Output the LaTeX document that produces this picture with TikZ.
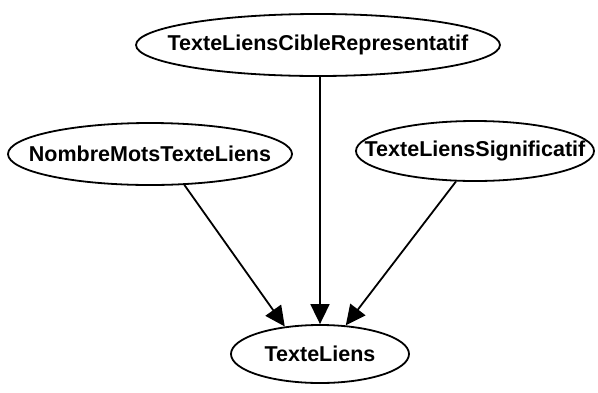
\documentclass[tikz,border=0pt]{standalone}
\usepackage{fontspec}
\newfontfamily\nodefont{Liberation Sans}
\usetikzlibrary{shapes.geometric,arrows.meta}
\tikzset{
  var/.style={ellipse, draw, line width=1.8pt, inner sep=0pt,
    font=\nodefont\bfseries\fontsize{21.5}{24}\selectfont},
  dep/.style={line width=1.8pt, -{Triangle[length=20pt,width=19pt]}}
}
% label of zero width, so that the ellipse keeps its given size
\newcommand\lbl[1]{\makebox[0pt]{#1}}
\begin{document}
\begin{tikzpicture}[x=1pt,y=-1pt]
  \useasboundingbox (0,0) rectangle (598,392);
  % variables of the network
  \node[var, minimum width=364pt, minimum height=62pt] (cible) at (318,45) {\lbl{TexteLiensCibleRepresentatif}};
  \node[var, minimum width=284pt, minimum height=62pt] (mots) at (150,154) {\lbl{NombreMotsTexteLiens}};
  \node[var, minimum width=238pt, minimum height=60pt] (signif) at (475,151) {\lbl{TexteLiensSignificatif}};
  \node[var, minimum width=178pt, minimum height=58pt] (liens) at (320,354) {\lbl{TexteLiens}};
  % dependencies
  \draw[dep] (cible.south -| liens.north) -- (liens.north);
  \draw[dep] (mots.-42) -- (liens.142);
  \draw[dep] (signif.-122) -- (liens.48);
\end{tikzpicture}
\end{document}
